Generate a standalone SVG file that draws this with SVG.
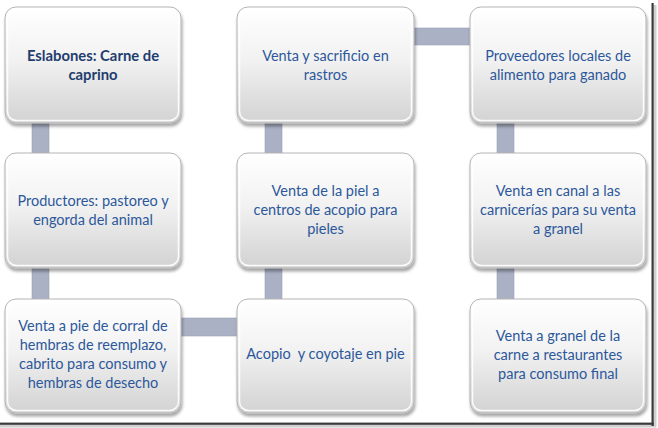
<svg xmlns="http://www.w3.org/2000/svg" width="658" height="428" viewBox="0 0 658 428">
<defs>
<linearGradient id="boxGrad" x1="0" y1="0" x2="0" y2="1">
<stop offset="0" stop-color="#ffffff"/>
<stop offset="0.45" stop-color="#f2f2f2"/>
<stop offset="1" stop-color="#d2d2d2"/>
</linearGradient>
<filter id="shadow" x="-10%" y="-10%" width="125%" height="130%">
<feGaussianBlur in="SourceAlpha" stdDeviation="1.8"/>
<feOffset dx="1" dy="3" result="b"/>
<feFlood flood-color="#000000" flood-opacity="0.35"/>
<feComposite in2="b" operator="in" result="s"/>
<feMerge><feMergeNode in="s"/><feMergeNode in="SourceGraphic"/></feMerge>
</filter>
</defs>
<style>
.box{fill:url(#boxGrad);stroke:#b4b4b4;stroke-width:1;filter:url(#shadow)}
.hl{fill:none;stroke:#ffffff;stroke-width:1.5;opacity:0.9}
.bar{fill:#aab1c5;stroke:#9aa1b6;stroke-width:0.6}
.t{font-family:Lato,"Liberation Sans",sans-serif;font-size:14.5px;fill:#2c589b;text-anchor:middle}
.title{font-family:Lato,"Liberation Sans",sans-serif;font-size:14.8px;font-weight:bold;fill:#1f3d6e;text-anchor:middle}
</style>
<rect x="0" y="0" width="658" height="428" fill="#ffffff"/>
<rect x="653.5" y="5" width="3" height="422" fill="#d0d0d0"/>
<rect x="0" y="424.5" width="656" height="3" fill="#d0d0d0"/>
<rect x="651.5" y="3" width="2.2" height="423" fill="#3a3a3a"/>
<rect x="0" y="422.6" width="653.7" height="2.2" fill="#3a3a3a"/>
<g id="connectors">
<rect class="bar" x="32" y="118" width="17" height="40"/>
<rect class="bar" x="32" y="263" width="17" height="41"/>
<rect class="bar" x="176" y="318" width="66" height="18"/>
<rect class="bar" x="265" y="263" width="17" height="41"/>
<rect class="bar" x="265" y="118" width="17" height="40"/>
<rect class="bar" x="409" y="28" width="66" height="17"/>
<rect class="bar" x="497" y="118" width="17" height="40"/>
<rect class="bar" x="497" y="263" width="17" height="41"/>
</g>
<g id="n1">
<rect class="box" x="5" y="7" width="176" height="116" rx="11"/>
<rect class="hl" x="7.5" y="9.5" width="171" height="111" rx="9"/>
<text class="title" x="93" y="61">Eslabones: Carne de</text>
<text class="title" x="93" y="80">caprino</text>
</g>
<g id="n2">
<rect class="box" x="5" y="153" width="176" height="115" rx="11"/>
<rect class="hl" x="7.5" y="155.5" width="171" height="110" rx="9"/>
<text class="t" x="93" y="206">Productores: pastoreo y</text>
<text class="t" x="93" y="225">engorda del animal</text>
</g>
<g id="n3">
<rect class="box" x="5" y="299" width="176" height="114" rx="11"/>
<rect class="hl" x="7.5" y="301.5" width="171" height="109" rx="9"/>
<text class="t" x="93" y="331">Venta a pie de corral de</text>
<text class="t" x="93" y="350">hembras de reemplazo,</text>
<text class="t" x="93" y="369">cabrito para consumo y</text>
<text class="t" x="93" y="388">hembras de desecho</text>
</g>
<g id="n4">
<rect class="box" x="237" y="299" width="177" height="114" rx="11"/>
<rect class="hl" x="239.5" y="301.5" width="172" height="109" rx="9"/>
<text class="t" x="325.5" y="359" xml:space="preserve">Acopio  y coyotaje en pie</text>
</g>
<g id="n5">
<rect class="box" x="237" y="153" width="177" height="115" rx="11"/>
<rect class="hl" x="239.5" y="155.5" width="172" height="110" rx="9"/>
<text class="t" x="325.5" y="196">Venta de la piel a</text>
<text class="t" x="325.5" y="215">centros de acopio para</text>
<text class="t" x="325.5" y="234">pieles</text>
</g>
<g id="n6">
<rect class="box" x="237" y="7" width="177" height="116" rx="11"/>
<rect class="hl" x="239.5" y="9.5" width="172" height="111" rx="9"/>
<text class="t" x="325.5" y="61">Venta y sacrificio en</text>
<text class="t" x="325.5" y="80">rastros</text>
</g>
<g id="n7">
<rect class="box" x="470" y="7" width="176" height="116" rx="11"/>
<rect class="hl" x="472.5" y="9.5" width="171" height="111" rx="9"/>
<text class="t" x="558" y="61">Proveedores locales de</text>
<text class="t" x="558" y="80">alimento para ganado</text>
</g>
<g id="n8">
<rect class="box" x="470" y="153" width="176" height="115" rx="11"/>
<rect class="hl" x="472.5" y="155.5" width="171" height="110" rx="9"/>
<text class="t" x="558" y="196">Venta en canal a las</text>
<text class="t" x="558" y="215">carnicerías para su venta</text>
<text class="t" x="558" y="234">a granel</text>
</g>
<g id="n9">
<rect class="box" x="470" y="299" width="176" height="114" rx="11"/>
<rect class="hl" x="472.5" y="301.5" width="171" height="109" rx="9"/>
<text class="t" x="558" y="341">Venta a granel de la</text>
<text class="t" x="558" y="360">carne a restaurantes</text>
<text class="t" x="558" y="379">para consumo final</text>
</g>
</svg>
